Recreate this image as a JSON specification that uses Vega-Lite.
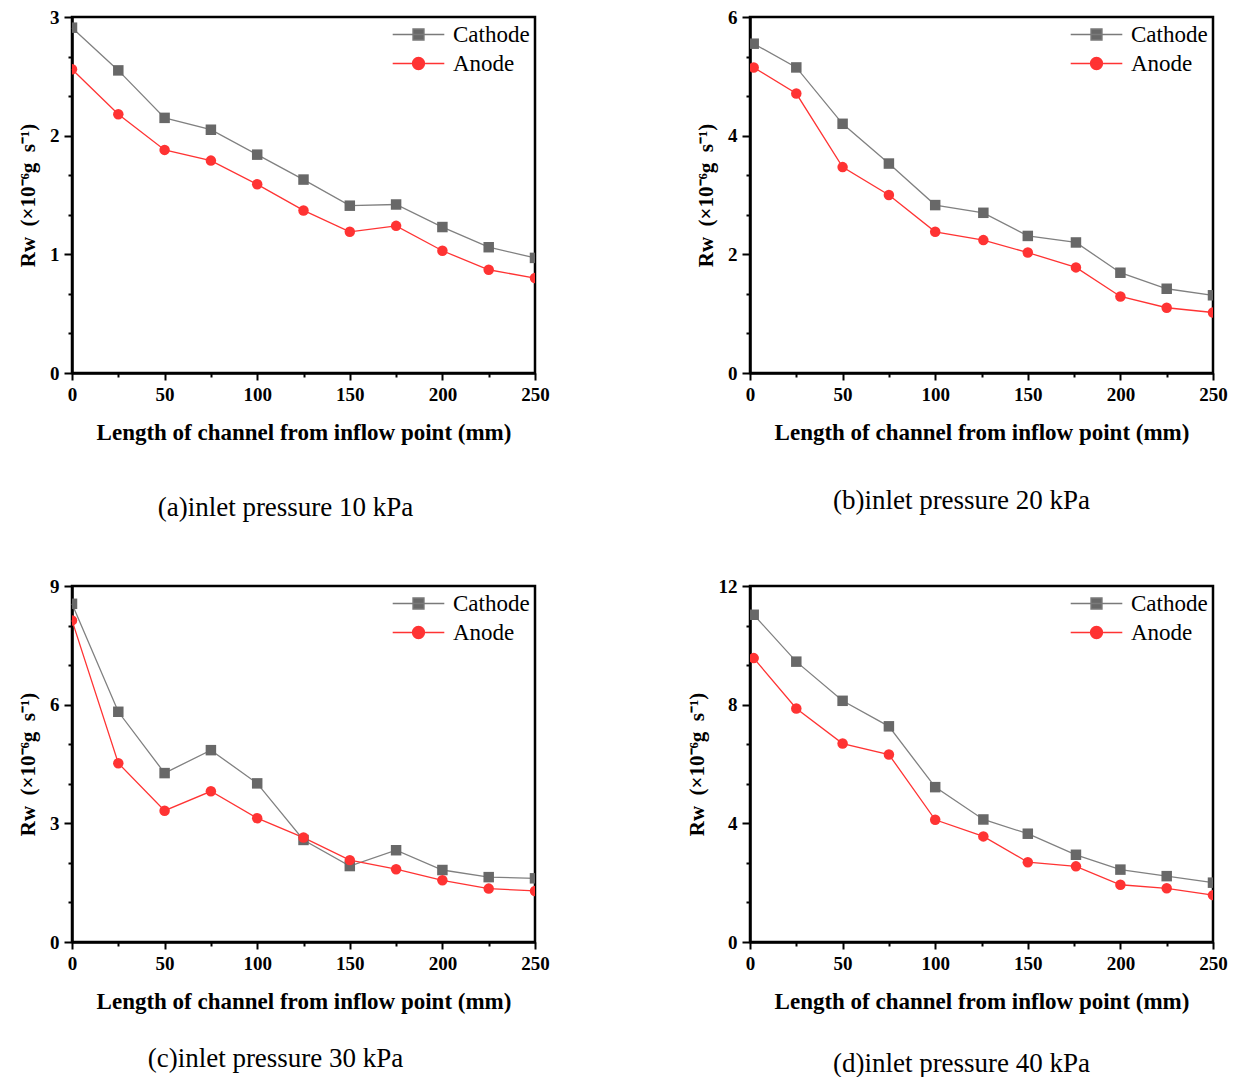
{
  "$schema": "https://vega.github.io/schema/vega-lite/v6.json",
  "background": "white",
  "padding": {"left": 16, "top": 6, "right": 5, "bottom": 5},
  "config": {
    "font": "Liberation Serif",
    "view": {"stroke": "black", "strokeWidth": 2.5},
    "axis": {
      "labelFont": "Liberation Serif", "labelFontWeight": "bold", "labelFontSize": 19, "labelColor": "black",
      "titleFont": "Liberation Serif", "titleFontWeight": "bold", "titleFontSize": 21, "titleColor": "black",
      "domainColor": "black", "domainWidth": 2.5, "tickColor": "black", "tickWidth": 2,
      "grid": false, "zindex": 1, "labelPadding": 5, "titlePadding": 11, "labelFlush": false
    },
    "axisX": {"titlePadding": 17, "titleFontSize": 23},
    "title": {"font": "Liberation Serif", "fontSize": 27, "fontWeight": "normal", "color": "black"},
    "legend": {
      "orient": "none", "padding": 0, "title": null,
      "labelFont": "Liberation Serif", "labelFontSize": 23, "labelFontWeight": "normal", "labelColor": "black",
      "labelOffset": 23, "symbolSize": 144, "symbolStrokeWidth": 1.3, "symbolOpacity": 1
    }
  },
  "resolve": {"scale": {"color": "independent", "stroke": "independent", "shape": "independent"}, "legend": {"stroke": "independent"}},
  "datasets": {
    "a": [
      {"s": "Cathode", "x": 0, "y": 2.91}, {"s": "Cathode", "x": 25, "y": 2.55}, {"s": "Cathode", "x": 50, "y": 2.15},
      {"s": "Cathode", "x": 75, "y": 2.05}, {"s": "Cathode", "x": 100, "y": 1.84}, {"s": "Cathode", "x": 125, "y": 1.63},
      {"s": "Cathode", "x": 150, "y": 1.41}, {"s": "Cathode", "x": 175, "y": 1.42}, {"s": "Cathode", "x": 200, "y": 1.23},
      {"s": "Cathode", "x": 225, "y": 1.06}, {"s": "Cathode", "x": 250, "y": 0.97},
      {"s": "Anode", "x": 0, "y": 2.56}, {"s": "Anode", "x": 25, "y": 2.18}, {"s": "Anode", "x": 50, "y": 1.88},
      {"s": "Anode", "x": 75, "y": 1.79}, {"s": "Anode", "x": 100, "y": 1.59}, {"s": "Anode", "x": 125, "y": 1.37},
      {"s": "Anode", "x": 150, "y": 1.19}, {"s": "Anode", "x": 175, "y": 1.24}, {"s": "Anode", "x": 200, "y": 1.03},
      {"s": "Anode", "x": 225, "y": 0.87}, {"s": "Anode", "x": 250, "y": 0.8}
    ],
    "b": [
      {"s": "Cathode", "x": 2, "y": 5.55}, {"s": "Cathode", "x": 25, "y": 5.15}, {"s": "Cathode", "x": 50, "y": 4.2},
      {"s": "Cathode", "x": 75, "y": 3.53}, {"s": "Cathode", "x": 100, "y": 2.83}, {"s": "Cathode", "x": 126, "y": 2.7},
      {"s": "Cathode", "x": 150, "y": 2.31}, {"s": "Cathode", "x": 176, "y": 2.2}, {"s": "Cathode", "x": 200, "y": 1.69},
      {"s": "Cathode", "x": 225, "y": 1.42}, {"s": "Cathode", "x": 250, "y": 1.31},
      {"s": "Anode", "x": 2, "y": 5.15}, {"s": "Anode", "x": 25, "y": 4.71}, {"s": "Anode", "x": 50, "y": 3.47},
      {"s": "Anode", "x": 75, "y": 3.0}, {"s": "Anode", "x": 100, "y": 2.38}, {"s": "Anode", "x": 126, "y": 2.24},
      {"s": "Anode", "x": 150, "y": 2.03}, {"s": "Anode", "x": 176, "y": 1.78}, {"s": "Anode", "x": 200, "y": 1.29},
      {"s": "Anode", "x": 225, "y": 1.1}, {"s": "Anode", "x": 250, "y": 1.02}
    ],
    "c": [
      {"s": "Cathode", "x": 0, "y": 8.55}, {"s": "Cathode", "x": 25, "y": 5.82}, {"s": "Cathode", "x": 50, "y": 4.27},
      {"s": "Cathode", "x": 75, "y": 4.85}, {"s": "Cathode", "x": 100, "y": 4.01}, {"s": "Cathode", "x": 125, "y": 2.58},
      {"s": "Cathode", "x": 150, "y": 1.92}, {"s": "Cathode", "x": 175, "y": 2.32}, {"s": "Cathode", "x": 200, "y": 1.82},
      {"s": "Cathode", "x": 225, "y": 1.64}, {"s": "Cathode", "x": 250, "y": 1.61},
      {"s": "Anode", "x": 0, "y": 8.13}, {"s": "Anode", "x": 25, "y": 4.52}, {"s": "Anode", "x": 50, "y": 3.32},
      {"s": "Anode", "x": 75, "y": 3.81}, {"s": "Anode", "x": 100, "y": 3.13}, {"s": "Anode", "x": 125, "y": 2.64},
      {"s": "Anode", "x": 150, "y": 2.07}, {"s": "Anode", "x": 175, "y": 1.84}, {"s": "Anode", "x": 200, "y": 1.56},
      {"s": "Anode", "x": 225, "y": 1.35}, {"s": "Anode", "x": 250, "y": 1.29}
    ],
    "d": [
      {"s": "Cathode", "x": 2, "y": 11.03}, {"s": "Cathode", "x": 25, "y": 9.45}, {"s": "Cathode", "x": 50, "y": 8.13},
      {"s": "Cathode", "x": 75, "y": 7.27}, {"s": "Cathode", "x": 100, "y": 5.22}, {"s": "Cathode", "x": 126, "y": 4.13},
      {"s": "Cathode", "x": 150, "y": 3.65}, {"s": "Cathode", "x": 176, "y": 2.94}, {"s": "Cathode", "x": 200, "y": 2.44},
      {"s": "Cathode", "x": 225, "y": 2.22}, {"s": "Cathode", "x": 250, "y": 2.0},
      {"s": "Anode", "x": 2, "y": 9.57}, {"s": "Anode", "x": 25, "y": 7.87}, {"s": "Anode", "x": 50, "y": 6.69},
      {"s": "Anode", "x": 75, "y": 6.32}, {"s": "Anode", "x": 100, "y": 4.12}, {"s": "Anode", "x": 126, "y": 3.56},
      {"s": "Anode", "x": 150, "y": 2.69}, {"s": "Anode", "x": 176, "y": 2.55}, {"s": "Anode", "x": 200, "y": 1.93},
      {"s": "Anode", "x": 225, "y": 1.81}, {"s": "Anode", "x": 250, "y": 1.58}
    ]
  },
  "vconcat": [
    {
      "spacing": 143,
      "resolve": {"scale": {"color": "independent", "stroke": "independent", "shape": "independent"}, "legend": {"stroke": "independent"}},
      "hconcat": [
        {
          "data": {"name": "a"}, "width": 463, "height": 356,
          "title": {"text": "(a)inlet pressure 10 kPa", "orient": "bottom", "dx": -18, "offset": 51},
          "resolve": {"axis": {"x": "independent", "y": "independent"}, "scale": {"stroke": "independent"}, "legend": {"stroke": "independent"}},
          "layer": [
            {"mark": {"type": "line", "strokeWidth": 1.3},
             "encoding": {
               "x": {"field": "x", "type": "quantitative", "scale": {"domain": [0, 250], "nice": false}, "axis": {"orient": "bottom", "values": [0, 50, 100, 150, 200, 250], "tickSize": 7, "title": "Length of channel from inflow point (mm)"}},
               "y": {"field": "y", "type": "quantitative", "scale": {"domain": [0, 3], "nice": false}, "axis": {"orient": "left", "values": [0, 1, 2, 3], "tickSize": 8, "title": "Rw\u00a0\u00a0(×10⁻⁶g\u00a0\u00a0s⁻¹)"}},
               "stroke": {"field": "s", "type": "nominal", "scale": {"domain": ["Anode", "Cathode"], "range": ["#ff3333", "#808080"]},
                 "legend": {"values": ["Anode"], "orient": "none", "legendX": 335, "legendY": 35, "symbolType": "M-4.3,0H4.3M1,0A1,1,0,1,1,-1,0A1,1,0,1,1,1,0Z", "symbolFillColor": "#ff3333", "symbolStrokeColor": "#ff3333"}}
             }},
            {"mark": {"type": "line", "opacity": 0},
             "encoding": {
               "x": {"field": "x", "type": "quantitative", "axis": null},
               "y": {"field": "y", "type": "quantitative", "axis": null},
               "stroke": {"field": "s", "type": "nominal", "scale": {"domain": ["Cathode", "Anode"], "range": ["#7a7a7a", "#ff3333"]},
                 "legend": {"values": ["Cathode"], "orient": "none", "legendX": 335, "legendY": 6, "symbolType": "M-4.3,0H4.3M-0.92,-0.92H0.92V0.92H-0.92Z", "symbolFillColor": "#686868", "symbolStrokeColor": "#7a7a7a", "symbolOpacity": 1}}
             }},
            {"mark": {"type": "point", "filled": true, "size": 110, "opacity": 1, "clip": true},
             "encoding": {
               "x": {"field": "x", "type": "quantitative", "axis": {"orient": "bottom", "values": [25, 75, 125, 175, 225], "tickSize": 4, "labels": false, "domain": false, "title": null}},
               "y": {"field": "y", "type": "quantitative", "axis": {"orient": "left", "values": [0.3333333, 0.6666667, 1.3333333, 1.6666667, 2.3333333, 2.6666667], "tickSize": 4, "labels": false, "domain": false, "title": null}},
               "color": {"field": "s", "type": "nominal", "scale": {"domain": ["Cathode", "Anode"], "range": ["#686868", "#ff3333"]}, "legend": null},
               "shape": {"field": "s", "type": "nominal", "scale": {"domain": ["Cathode", "Anode"], "range": ["square", "circle"]}, "legend": null}
             }}
          ]
        },
        {
          "data": {"name": "b"}, "width": 463, "height": 356,
          "title": {"text": "(b)inlet pressure 20 kPa", "orient": "bottom", "dx": -20, "offset": 44},
          "resolve": {"axis": {"x": "independent", "y": "independent"}, "scale": {"stroke": "independent"}, "legend": {"stroke": "independent"}},
          "layer": [
            {"mark": {"type": "line", "strokeWidth": 1.3},
             "encoding": {
               "x": {"field": "x", "type": "quantitative", "scale": {"domain": [0, 250], "nice": false}, "axis": {"orient": "bottom", "values": [0, 50, 100, 150, 200, 250], "tickSize": 7, "title": "Length of channel from inflow point (mm)"}},
               "y": {"field": "y", "type": "quantitative", "scale": {"domain": [0, 6], "nice": false}, "axis": {"orient": "left", "values": [0, 2, 4, 6], "tickSize": 8, "title": "Rw\u00a0\u00a0(×10⁻⁶g\u00a0\u00a0s⁻¹)"}},
               "stroke": {"field": "s", "type": "nominal", "scale": {"domain": ["Anode", "Cathode"], "range": ["#ff3333", "#808080"]},
                 "legend": {"values": ["Anode"], "orient": "none", "legendX": 335, "legendY": 35, "symbolType": "M-4.3,0H4.3M1,0A1,1,0,1,1,-1,0A1,1,0,1,1,1,0Z", "symbolFillColor": "#ff3333", "symbolStrokeColor": "#ff3333"}}
             }},
            {"mark": {"type": "line", "opacity": 0},
             "encoding": {
               "x": {"field": "x", "type": "quantitative", "axis": null},
               "y": {"field": "y", "type": "quantitative", "axis": null},
               "stroke": {"field": "s", "type": "nominal", "scale": {"domain": ["Cathode", "Anode"], "range": ["#7a7a7a", "#ff3333"]},
                 "legend": {"values": ["Cathode"], "orient": "none", "legendX": 335, "legendY": 6, "symbolType": "M-4.3,0H4.3M-0.92,-0.92H0.92V0.92H-0.92Z", "symbolFillColor": "#686868", "symbolStrokeColor": "#7a7a7a", "symbolOpacity": 1}}
             }},
            {"mark": {"type": "point", "filled": true, "size": 110, "opacity": 1, "clip": true},
             "encoding": {
               "x": {"field": "x", "type": "quantitative", "axis": {"orient": "bottom", "values": [25, 75, 125, 175, 225], "tickSize": 4, "labels": false, "domain": false, "title": null}},
               "y": {"field": "y", "type": "quantitative", "axis": {"orient": "left", "values": [0.6666667, 1.3333333, 2.6666667, 3.3333333, 4.6666667, 5.3333333], "tickSize": 4, "labels": false, "domain": false, "title": null}},
               "color": {"field": "s", "type": "nominal", "scale": {"domain": ["Cathode", "Anode"], "range": ["#686868", "#ff3333"]}, "legend": null},
               "shape": {"field": "s", "type": "nominal", "scale": {"domain": ["Cathode", "Anode"], "range": ["square", "circle"]}, "legend": null}
             }}
          ]
        }
      ]
    },
    {
      "spacing": 133,
      "resolve": {"scale": {"color": "independent", "stroke": "independent", "shape": "independent"}, "legend": {"stroke": "independent"}},
      "hconcat": [
        {
          "data": {"name": "c"}, "width": 463, "height": 356,
          "title": {"text": "(c)inlet pressure 30 kPa", "orient": "bottom", "dx": -28, "offset": 33},
          "resolve": {"axis": {"x": "independent", "y": "independent"}, "scale": {"stroke": "independent"}, "legend": {"stroke": "independent"}},
          "layer": [
            {"mark": {"type": "line", "strokeWidth": 1.3},
             "encoding": {
               "x": {"field": "x", "type": "quantitative", "scale": {"domain": [0, 250], "nice": false}, "axis": {"orient": "bottom", "values": [0, 50, 100, 150, 200, 250], "tickSize": 7, "title": "Length of channel from inflow point (mm)"}},
               "y": {"field": "y", "type": "quantitative", "scale": {"domain": [0, 9], "nice": false}, "axis": {"orient": "left", "values": [0, 3, 6, 9], "tickSize": 8, "title": "Rw\u00a0\u00a0(×10⁻⁶g\u00a0\u00a0s⁻¹)"}},
               "stroke": {"field": "s", "type": "nominal", "scale": {"domain": ["Anode", "Cathode"], "range": ["#ff3333", "#808080"]},
                 "legend": {"values": ["Anode"], "orient": "none", "legendX": 335, "legendY": 35, "symbolType": "M-4.3,0H4.3M1,0A1,1,0,1,1,-1,0A1,1,0,1,1,1,0Z", "symbolFillColor": "#ff3333", "symbolStrokeColor": "#ff3333"}}
             }},
            {"mark": {"type": "line", "opacity": 0},
             "encoding": {
               "x": {"field": "x", "type": "quantitative", "axis": null},
               "y": {"field": "y", "type": "quantitative", "axis": null},
               "stroke": {"field": "s", "type": "nominal", "scale": {"domain": ["Cathode", "Anode"], "range": ["#7a7a7a", "#ff3333"]},
                 "legend": {"values": ["Cathode"], "orient": "none", "legendX": 335, "legendY": 6, "symbolType": "M-4.3,0H4.3M-0.92,-0.92H0.92V0.92H-0.92Z", "symbolFillColor": "#686868", "symbolStrokeColor": "#7a7a7a", "symbolOpacity": 1}}
             }},
            {"mark": {"type": "point", "filled": true, "size": 110, "opacity": 1, "clip": true},
             "encoding": {
               "x": {"field": "x", "type": "quantitative", "axis": {"orient": "bottom", "values": [25, 75, 125, 175, 225], "tickSize": 4, "labels": false, "domain": false, "title": null}},
               "y": {"field": "y", "type": "quantitative", "axis": {"orient": "left", "values": [1, 2, 4, 5, 7, 8], "tickSize": 4, "labels": false, "domain": false, "title": null}},
               "color": {"field": "s", "type": "nominal", "scale": {"domain": ["Cathode", "Anode"], "range": ["#686868", "#ff3333"]}, "legend": null},
               "shape": {"field": "s", "type": "nominal", "scale": {"domain": ["Cathode", "Anode"], "range": ["square", "circle"]}, "legend": null}
             }}
          ]
        },
        {
          "data": {"name": "d"}, "width": 463, "height": 356,
          "title": {"text": "(d)inlet pressure 40 kPa", "orient": "bottom", "dx": -20, "offset": 38},
          "resolve": {"axis": {"x": "independent", "y": "independent"}, "scale": {"stroke": "independent"}, "legend": {"stroke": "independent"}},
          "layer": [
            {"mark": {"type": "line", "strokeWidth": 1.3},
             "encoding": {
               "x": {"field": "x", "type": "quantitative", "scale": {"domain": [0, 250], "nice": false}, "axis": {"orient": "bottom", "values": [0, 50, 100, 150, 200, 250], "tickSize": 7, "title": "Length of channel from inflow point (mm)"}},
               "y": {"field": "y", "type": "quantitative", "scale": {"domain": [0, 12], "nice": false}, "axis": {"orient": "left", "values": [0, 4, 8, 12], "tickSize": 8, "title": "Rw\u00a0\u00a0(×10⁻⁶g\u00a0\u00a0s⁻¹)"}},
               "stroke": {"field": "s", "type": "nominal", "scale": {"domain": ["Anode", "Cathode"], "range": ["#ff3333", "#808080"]},
                 "legend": {"values": ["Anode"], "orient": "none", "legendX": 335, "legendY": 35, "symbolType": "M-4.3,0H4.3M1,0A1,1,0,1,1,-1,0A1,1,0,1,1,1,0Z", "symbolFillColor": "#ff3333", "symbolStrokeColor": "#ff3333"}}
             }},
            {"mark": {"type": "line", "opacity": 0},
             "encoding": {
               "x": {"field": "x", "type": "quantitative", "axis": null},
               "y": {"field": "y", "type": "quantitative", "axis": null},
               "stroke": {"field": "s", "type": "nominal", "scale": {"domain": ["Cathode", "Anode"], "range": ["#7a7a7a", "#ff3333"]},
                 "legend": {"values": ["Cathode"], "orient": "none", "legendX": 335, "legendY": 6, "symbolType": "M-4.3,0H4.3M-0.92,-0.92H0.92V0.92H-0.92Z", "symbolFillColor": "#686868", "symbolStrokeColor": "#7a7a7a", "symbolOpacity": 1}}
             }},
            {"mark": {"type": "point", "filled": true, "size": 110, "opacity": 1, "clip": true},
             "encoding": {
               "x": {"field": "x", "type": "quantitative", "axis": {"orient": "bottom", "values": [25, 75, 125, 175, 225], "tickSize": 4, "labels": false, "domain": false, "title": null}},
               "y": {"field": "y", "type": "quantitative", "axis": {"orient": "left", "values": [1.3333333, 2.6666667, 5.3333333, 6.6666667, 9.3333333, 10.6666667], "tickSize": 4, "labels": false, "domain": false, "title": null}},
               "color": {"field": "s", "type": "nominal", "scale": {"domain": ["Cathode", "Anode"], "range": ["#686868", "#ff3333"]}, "legend": null},
               "shape": {"field": "s", "type": "nominal", "scale": {"domain": ["Cathode", "Anode"], "range": ["square", "circle"]}, "legend": null}
             }}
          ]
        }
      ]
    }
  ],
  "spacing": 52
}
